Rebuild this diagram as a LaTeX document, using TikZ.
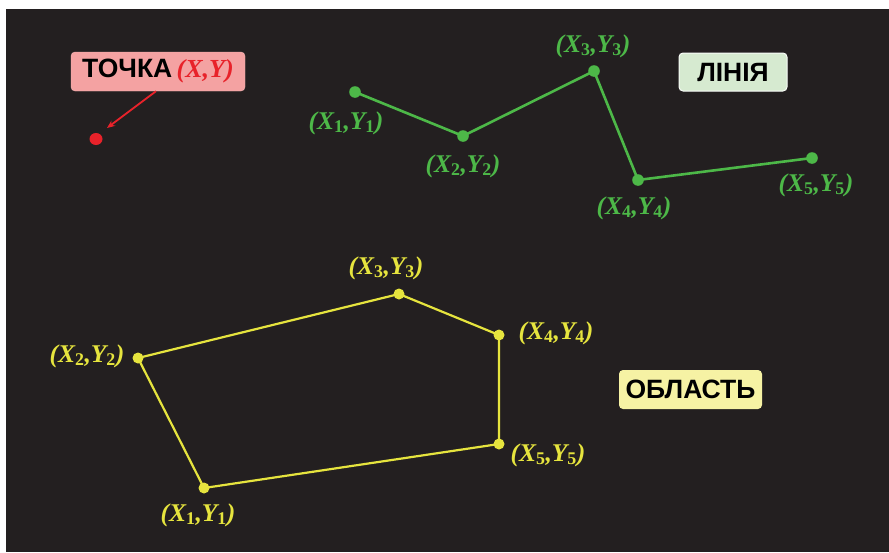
\documentclass[tikz,border=0pt]{standalone}
\usepackage{fontspec}
\setmainfont{Liberation Serif}
\newfontfamily\boxfont{Liberation Sans}
\usetikzlibrary{arrows.meta}
\definecolor{bgdark}{RGB}{35,31,32}
\definecolor{lgreen}{RGB}{77,184,72}
\definecolor{lyellow}{RGB}{230,228,62}
\definecolor{lred}{RGB}{232,34,42}
\definecolor{boxpink}{RGB}{244,162,162}
\definecolor{boxgreen}{RGB}{214,234,208}
\definecolor{boxyellow}{RGB}{246,242,164}
\newcommand{\crd}[1]{(X\textsubscript{\upshape #1},Y\textsubscript{\upshape #1})}
\tikzset{
  x=1pt, y=-1pt,
  lab/.style={inner sep=0pt, font=\fontsize{25.5}{27}\selectfont\bfseries\itshape},
  glab/.style={lab, text=lgreen},
  ylab/.style={lab, text=lyellow},
  gline/.style={draw=lgreen, line width=2.6pt, line join=round},
  yline/.style={draw=lyellow, line width=2.2pt, line join=round},
  gdot/.style={fill=lgreen},
  ydot/.style={fill=lyellow},
  tagbox/.style={rounded corners=4pt, inner sep=0pt, text=black,
    font=\boxfont\fontsize{26.5}{28}\selectfont\bfseries},
}
\begin{document}
\begin{tikzpicture}
\useasboundingbox (0,0) rectangle (889,552);
\fill[white] (0,0) rectangle (889,552);
\fill[bgdark] (6,9) rectangle (889,552);

% point
\node[tagbox, fill=boxpink, draw=boxpink!80!white, minimum width=174pt, minimum height=39pt]
  (tochka) at (158,71.5) {ТОЧКА\,{\rmfamily\itshape\fontsize{26}{28}\selectfont\textcolor{lred}{(X,Y)}}};
\coordinate (rdot) at (96,139);
\coordinate (atip) at (107,128);
\fill[lred] (rdot) ellipse (6.5pt and 6pt);
\draw[lred, line width=1.8pt, -{Stealth[length=8pt,width=6.5pt]}] ([xshift=-2pt]tochka.south) -- (atip);

% line
\coordinate (g1) at (355,92);
\coordinate (g2) at (463,136);
\coordinate (g3) at (594,71);
\coordinate (g4) at (638,180);
\coordinate (g5) at (812,158);
\draw[gline] (g1) -- (g2) -- (g3) -- (g4) -- (g5);
\foreach \p in {g1,g2,g3,g4,g5} \fill[gdot] (\p) circle (5.8pt);
\node[glab] (lg1) at (346,123) {\crd{1}};
\node[glab] (lg2) at (463,166) {\crd{2}};
\node[glab] (lg3) at (593,46) {\crd{3}};
\node[glab] (lg4) at (634,208) {\crd{4}};
\node[glab] (lg5) at (816,185) {\crd{5}};
\node[tagbox, fill=boxgreen, draw=white!85!boxgreen, line width=1pt, minimum width=108pt, minimum height=38pt]
  (linia) at (733,72) {ЛІНІЯ};

% area
\coordinate (y1) at (204,488);
\coordinate (y2) at (138,358);
\coordinate (y3) at (399,294);
\coordinate (y4) at (499,335);
\coordinate (y5) at (499,444);
\draw[yline] (y1) -- (y2) -- (y3) -- (y4) -- (y5) -- cycle;
\foreach \p in {y1,y2,y3,y4,y5} \fill[ydot] (\p) circle (5.5pt);
\node[ylab] (ly1) at (198,515) {\crd{1}};
\node[ylab] (ly2) at (87,356) {\crd{2}};
\node[ylab] (ly3) at (386,268) {\crd{3}};
\node[ylab] (ly4) at (556,333) {\crd{4}};
\node[ylab] (ly5) at (548,455) {\crd{5}};
\node[tagbox, fill=boxyellow, minimum width=143pt, minimum height=39pt]
  (oblast) at (690.5,389.5) {ОБЛАСТЬ};
\end{tikzpicture}
\end{document}
